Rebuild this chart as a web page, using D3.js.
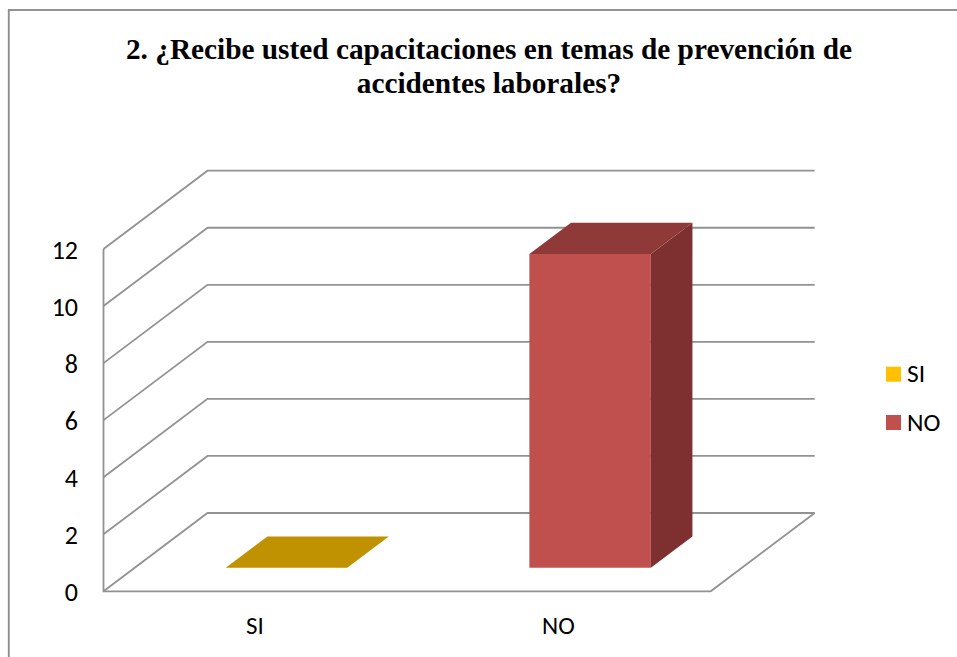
<!DOCTYPE html>
<html><head><meta charset="utf-8">
<script src="https://cdn.jsdelivr.net/npm/d3@7"></script>
<style>html,body{margin:0;padding:0;background:#fff}svg{display:block}</style>
</head><body><svg id="c" width="957" height="657"></svg>
<script>
const categories = ["SI", "NO"];
const values = [0, 11];
const yTicks = [0, 2, 4, 6, 8, 10, 12];
const legendLabels = ["SI", "NO"];
const titleLines = ["2. ¿Recibe usted capacitaciones en temas de prevención de", "accidentes laborales?"];

const svg = d3.select("#c");
const font = "Carlito, Calibri, 'Open Sans', 'Noto Sans', sans-serif";
const grid = "#929292";
const palette = {SI:{legend:"#ffc000",top:"#c09100"}, NO:{legend:"#c0504d",front:"#c0504d",top:"#8f3a38",side:"#7d302f"}};

svg.append("rect").attr("x",8.8).attr("y",10).attr("width",960).attr("height",660)
  .attr("fill","#fff").attr("stroke","#8f8f8f").attr("stroke-width",1.9);

const x = d3.scaleBand().domain(categories).range([103.5,710.7]).paddingInner(0).paddingOuter(0);
const y = d3.scaleLinear().domain([0,12]).range([591.3,249]);
const depth = d3.scaleLinear().domain([0,1]).range([0,1]);
const D = {dx:104, dy:-78.3};
const p = (px,py,t)=>[px+depth(t)*D.dx, py+depth(t)*D.dy];
const line = d3.line();

yTicks.forEach(t=>{
  const a=[x.range()[0],y(t)], b=p(a[0],a[1],1), c=[x.range()[1]+D.dx,b[1]];
  svg.append("path").attr("d",line([a,b,c])).attr("fill","none").attr("stroke",grid).attr("stroke-width",1.8);
});
svg.append("path").attr("d",line([[x.range()[0],y(12)],[x.range()[0],y(0)],[x.range()[1],y(0)],p(x.range()[1],y(0),1)]))
  .attr("fill","none").attr("stroke",grid).attr("stroke-width",1.8);

const t0=0.3, t1=0.7;
categories.forEach((c,i)=>{
  const v=values[i], b=x.bandwidth();
  const xl=x(c)+b*0.3, xr=x(c)+b*0.7;
  const base=y(0), top=y(v);
  const col=palette[c];
  const fl=[p(xl,top,t0),p(xr,top,t0),p(xr,top,t1),p(xl,top,t1)];
  if(v>0){
    svg.append("path").attr("d",line([p(xl,base,t0),p(xr,base,t0),p(xr,top,t0),p(xl,top,t0)])+"Z").attr("fill",col.front);
    svg.append("path").attr("d",line([p(xr,base,t0),p(xr,base,t1),p(xr,top,t1),p(xr,top,t0)])+"Z").attr("fill",col.side);
  }
  svg.append("path").attr("d",line(fl)+"Z").attr("fill",col.top);
});

svg.append("g").selectAll("text").data(yTicks).join("text")
  .attr("x",78).attr("y",d=>y(d)+9.8).attr("text-anchor","end")
  .attr("font-family",font).attr("font-size",26).attr("fill","#000").text(d=>d);

svg.append("g").selectAll("text").data(categories).join("text")
  .attr("x",d=>x(d)+x.bandwidth()/2-0.5).attr("y",633.5).attr("text-anchor","middle")
  .attr("font-family",font).attr("font-size",25).attr("fill","#000").text(d=>d);

const leg=d3.scaleOrdinal().domain(legendLabels).range([374.2,422.5]);
legendLabels.forEach(l=>{
  svg.append("rect").attr("x",886).attr("y",leg(l)-7.5).attr("width",15).attr("height",15).attr("fill",palette[l].legend);
  svg.append("text").attr("x",907).attr("y",leg(l)+8).attr("font-family",font).attr("font-size",25.5).attr("fill","#000").text(l);
});

svg.append("g").selectAll("text").data(titleLines).join("text")
  .attr("x",489).attr("y",(d,i)=>58.5+i*34.5).attr("text-anchor","middle")
  .attr("font-family","'Liberation Serif','Times New Roman',serif").attr("font-weight","bold").attr("font-size",29.3).attr("fill","#000").text(d=>d);
</script></body></html>
